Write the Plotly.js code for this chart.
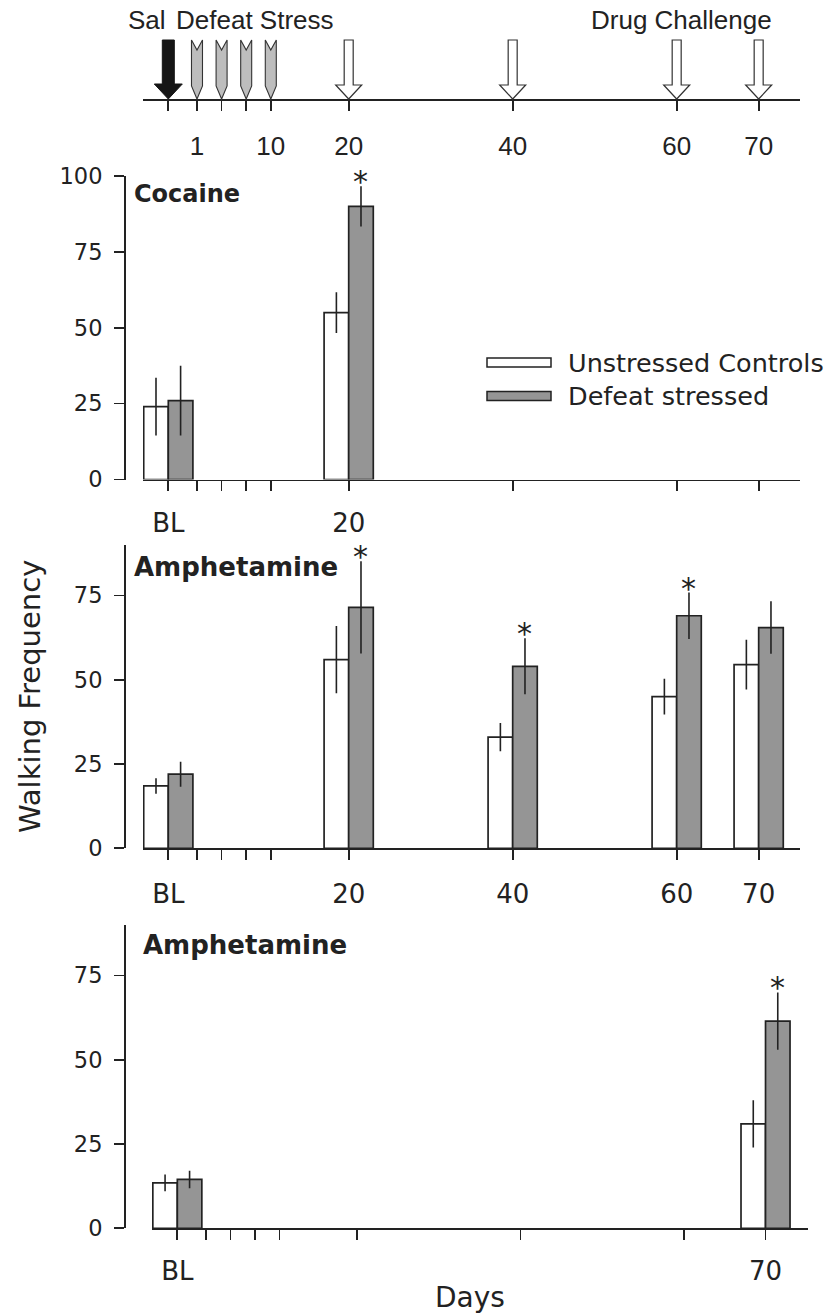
<!DOCTYPE html>
<html><head><meta charset="utf-8">
<script src="https://cdn.plot.ly/plotly-3.0.1.min.js"></script>
<style>html,body{margin:0;padding:0;background:#fff}</style>
</head><body><div id="chart" style="width:827px;height:1314px"></div>
<script>
// ---------- data ----------
const timelineTickPos = [-2, 1.5, 4.5, 7.5, 10.5, 20, 40, 60, 70];
const timelineTickText = ['', '1', '', '', '10', '20', '40', '60', '70'];
const salDays = [-2];
const stressDays = [1.5, 4.5, 7.5, 10.5];
const challengeDays = [20, 40, 60, 70];
const timelineLabels = ['Sal', 'Defeat Stress', 'Drug Challenge'];

const seriesNames = ['Unstressed Controls', 'Defeat stressed'];
const panelTitles = ['Cocaine', 'Amphetamine', 'Amphetamine'];

const cocDays = [-2, 20];
const cocCtrl = [24, 55];
const cocCtrlErr = [9.5, 6.7];
const cocStress = [26, 90];
const cocStressErr = [11.5, 6.6];
const cocSig = [false, true];
const cocTickText = ['BL', '', '', '', '', '20', '', '', ''];
const cocYTicks = [0, 25, 50, 75, 100];

const amphDays = [-2, 20, 40, 60, 70];
const amphCtrl = [18.5, 56, 33, 45, 54.5];
const amphCtrlErr = [2.3, 10, 4.2, 5.3, 7.4];
const amphStress = [22, 71.5, 54, 69, 65.5];
const amphStressErr = [3.7, 13.7, 8.3, 6.9, 7.8];
const amphSig = [false, true, true, true, false];
const amphTickText = ['BL', '', '', '', '', '20', '40', '60', '70'];

const amph2Days = [-2, 70];
const amph2Ctrl = [13.5, 31];
const amph2CtrlErr = [2.5, 7];
const amph2Stress = [14.5, 61.5];
const amph2StressErr = [2.6, 8.5];
const amph2Sig = [false, true];
const amph2TickText = ['BL', '', '', '', '', '', '', '', '70'];
const ampYTicks = [0, 25, 50, 75];

// ---------- styling ----------
const W = 827, H = 1314;
const px = v => v / W;
const py = v => 1 - v / H;
const INK = '#222222';
const GRAY = '#959595';
const MAIN = 'DejaVu Sans, Arial, sans-serif';
const TL = 'Liberation Sans, Arial, sans-serif';
const BARW = 3;

const traces = [];
const annotations = [];
const shapes = [];

function panel(idx, days, ctrl, ctrlErr, stress, stressErr, sig) {
  const xa = 'x' + idx, ya = 'y' + idx;
  const eb = arr => ({type: 'data', array: arr, visible: true, width: 0, thickness: 1.6, color: INK});
  traces.push({type: 'bar', x: days, y: ctrl, offset: -BARW, width: BARW, xaxis: xa, yaxis: ya,
    name: seriesNames[0], showlegend: false,
    marker: {color: '#ffffff', line: {color: INK, width: 1.7}}, error_y: eb(ctrlErr), hoverinfo: 'skip'});
  traces.push({type: 'bar', x: days, y: stress, offset: 0, width: BARW, xaxis: xa, yaxis: ya,
    name: seriesNames[1], showlegend: false,
    marker: {color: GRAY, line: {color: INK, width: 1.7}}, error_y: eb(stressErr), hoverinfo: 'skip'});
  days.forEach((d, i) => {
    if (sig[i]) annotations.push({xref: xa, yref: ya, x: d + BARW / 2, y: stress[i] + stressErr[i],
      text: '*', showarrow: false, yanchor: 'bottom', yshift: -15, font: {family: MAIN, size: 30, color: INK}});
  });
}
panel(2, cocDays, cocCtrl, cocCtrlErr, cocStress, cocStressErr, cocSig);
panel(3, amphDays, amphCtrl, amphCtrlErr, amphStress, amphStressErr, amphSig);
panel(4, amph2Days, amph2Ctrl, amph2CtrlErr, amph2Stress, amph2StressErr, amph2Sig);

// dummy trace for timeline axes
traces.push({type: 'scatter', x: [], y: [], xaxis: 'x', yaxis: 'y', showlegend: false});

// timeline arrows
const TLY = py(99);
const arrowBase = {type: 'path', xref: 'x', yref: 'paper', xsizemode: 'pixel', ysizemode: 'pixel', yanchor: TLY, layer: 'above'};
salDays.forEach(d => shapes.push(Object.assign({}, arrowBase, {xanchor: d,
  path: 'M-6,59L6,59L6,15L14,15L0,0L-14,15L-6,15Z', fillcolor: '#151515', line: {color: '#151515', width: 1}})));
stressDays.forEach(d => shapes.push(Object.assign({}, arrowBase, {xanchor: d,
  path: 'M-5.5,59L0,49L5.5,59L5.5,13L0,0L-5.5,13Z', fillcolor: '#bdbdbd', line: {color: '#333', width: 1.1}})));
challengeDays.forEach(d => shapes.push(Object.assign({}, arrowBase, {xanchor: d,
  path: 'M-4.5,59L4.5,59L4.5,14L13,14L0,0L-13,14L-4.5,14Z', fillcolor: '#ffffff', line: {color: '#333', width: 1.2}})));

// timeline labels
const tlPos = [[147, 'center'], [255, 'center'], [681, 'center']];
timelineLabels.forEach((t, i) => annotations.push({xref: 'paper', yref: 'paper', x: px(tlPos[i][0]), y: py(20),
  xanchor: tlPos[i][1], yanchor: 'middle', text: t, showarrow: false, font: {family: TL, size: 26, color: INK}}));

// panel titles
const titlePos = [[132, 194, 24], [132, 567, 26], [141, 945, 26]];
panelTitles.forEach((t, i) => annotations.push({xref: 'paper', yref: 'paper', x: px(titlePos[i][0]), y: py(titlePos[i][1]),
  xanchor: 'left', yanchor: 'middle', text: '<b>' + t + '</b>', showarrow: false,
  font: {family: MAIN, size: titlePos[i][2], color: INK}}));

// axis titles
annotations.push({xref: 'paper', yref: 'paper', x: px(30), y: py(697), text: 'Walking Frequency', textangle: -90,
  showarrow: false, xanchor: 'center', yanchor: 'middle', font: {family: MAIN, size: 29, color: INK}});
annotations.push({xref: 'paper', yref: 'paper', x: px(470), y: py(1297), text: 'Days',
  showarrow: false, xanchor: 'center', yanchor: 'middle', font: {family: MAIN, size: 28, color: INK}});

// manual legend
const legRows = [[362.5, '#ffffff'], [396, GRAY]];
seriesNames.forEach((n, i) => {
  shapes.push({type: 'rect', xref: 'paper', yref: 'paper', x0: px(487), x1: px(551),
    y0: py(legRows[i][0] - 4.5), y1: py(legRows[i][0] + 4.5), fillcolor: legRows[i][1], line: {color: INK, width: 1.5}});
  annotations.push({xref: 'paper', yref: 'paper', x: px(566), y: py(legRows[i][0]), xanchor: 'left', yanchor: 'middle',
    text: n, showarrow: false, font: {family: MAIN, size: 25.5, color: INK}});
});

// ---------- axes ----------
const xBase = {showgrid: false, zeroline: false, showline: true, linecolor: INK, linewidth: 1.7,
  ticks: 'outside', ticklen: 10, tickwidth: 1.7, tickcolor: INK, tickmode: 'array', tickvals: timelineTickPos, fixedrange: true};
const yBase = {showgrid: false, zeroline: false, showline: true, linecolor: INK, linewidth: 1.7,
  ticks: 'outside', ticklen: 10, tickwidth: 1.7, tickcolor: INK, tickmode: 'array', anchor: 'free', position: px(124),
  ticklabelstandoff: 7, tickfont: {family: MAIN, size: 22.5, color: INK}, fixedrange: true};

const layout = {
  width: W, height: H, margin: {l: 0, r: 0, t: 0, b: 0}, paper_bgcolor: '#fff', plot_bgcolor: 'rgba(0,0,0,0)',
  showlegend: false, barmode: 'overlay',
  xaxis: Object.assign({}, xBase, {domain: [px(143), px(800)], range: [-5.085, 75.04], anchor: 'y',
    ticktext: timelineTickText, ticklabelstandoff: 13, tickfont: {family: TL, size: 26, color: INK}}),
  yaxis: {domain: [py(99), py(38)], range: [0, 1], visible: false, fixedrange: true},
  xaxis2: Object.assign({}, xBase, {domain: [px(143), px(800)], range: [-5.085, 75.04], anchor: 'y2',
    ticktext: cocTickText, ticklabelstandoff: 10, tickfont: {family: MAIN, size: 26, color: INK}}),
  yaxis2: Object.assign({}, yBase, {domain: [py(479.5), py(176)], range: [0, 100], tickvals: cocYTicks}),
  xaxis3: Object.assign({}, xBase, {domain: [px(143), px(800)], range: [-5.085, 75.04], anchor: 'y3',
    ticktext: amphTickText, ticklabelstandoff: 12, tickfont: {family: MAIN, size: 26, color: INK}}),
  yaxis3: Object.assign({}, yBase, {domain: [py(848.3), py(545)], range: [0, 90], tickvals: ampYTicks}),
  xaxis4: Object.assign({}, xBase, {domain: [px(152), px(808)], range: [-5.1, 75.2], anchor: 'y4',
    ticktext: amph2TickText, ticklabelstandoff: 9, tickfont: {family: MAIN, size: 26, color: INK}}),
  yaxis4: Object.assign({}, yBase, {domain: [py(1228.3), py(925)], range: [0, 90], tickvals: ampYTicks}),
  annotations: annotations,
  shapes: shapes
};

Plotly.newPlot('chart', traces, layout, {staticPlot: true, displayModeBar: false});
</script>
</body></html>
